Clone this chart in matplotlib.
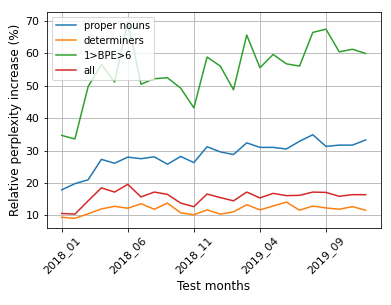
import matplotlib
matplotlib.use("Agg")
from matplotlib import pyplot as plt

months = [f"{y}_{m:02d}" for y in (2018, 2019) for m in range(1, 13)]

proper_nouns = [17.9, 19.8, 21.0, 27.3, 26.1, 28.0, 27.5, 28.1, 25.8, 28.2, 26.3, 31.2,
                29.6, 28.8, 32.4, 31.0, 31.0, 30.5, 32.9, 34.9, 31.3, 31.7, 31.7, 33.3]
determiners = [9.4, 9.1, 10.5, 12.0, 12.8, 12.2, 13.6, 11.9, 13.8, 10.8, 10.2, 11.7,
               10.4, 11.1, 13.3, 11.7, 12.9, 14.1, 11.6, 12.9, 12.3, 11.9, 12.7, 11.6]
bpe = [34.7, 33.6, 49.8, 56.6, 51.2, 69.8, 50.5, 52.2, 52.5, 49.3, 43.2, 58.9,
       56.1, 48.8, 65.7, 55.6, 59.7, 56.8, 56.1, 66.5, 67.5, 60.5, 61.3, 60.0]
all_words = [10.6, 10.4, 14.5, 18.5, 17.2, 19.6, 15.7, 17.2, 16.5, 13.8, 12.7, 16.6,
             15.5, 14.5, 17.2, 15.4, 16.8, 16.1, 16.2, 17.2, 17.1, 15.9, 16.4, 16.4]

# reference looks like a 72 dpi render
fig, ax = plt.subplots(figsize=(391 / 72, 305 / 72), dpi=72)
fig.subplots_adjust(left=0.119, right=0.974, top=0.961, bottom=0.252)

x = list(range(len(months)))
ax.plot(x, proper_nouns, label="proper nouns")
ax.plot(x, determiners, label="determiners")
ax.plot(x, bpe, label="1>BPE>6")
ax.plot(x, all_words, label="all")

ax.set_xticks(x[::5])
ax.set_xticklabels(months[::5], rotation=45, fontsize=11)
ax.tick_params(axis="y", labelsize=11)
ax.grid(True)
ax.set_xlabel("Test months", fontsize=12)
ax.set_ylabel("Relative perplexity increase (%)", fontsize=12)
ax.legend(loc="upper left")

fig.savefig("out.png")
